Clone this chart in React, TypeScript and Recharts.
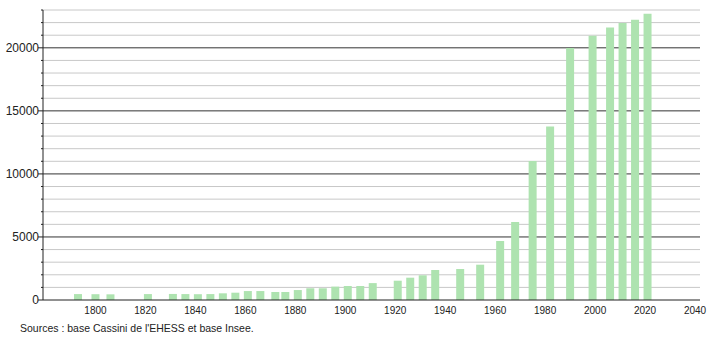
import { BarChart, Bar, XAxis, YAxis, CartesianGrid } from 'recharts';

// Population by census year
const years = [
  1793, 1800, 1806, 1821, 1831, 1836, 1841, 1846, 1851, 1856, 1861, 1866, 1872,
  1876, 1881, 1886, 1891, 1896, 1901, 1906, 1911, 1921, 1926, 1931, 1936, 1946,
  1954, 1962, 1968, 1975, 1982, 1990, 1999, 2006, 2011, 2016, 2021,
];
const population = [
  470, 460, 450, 470, 480, 470, 460, 470, 530, 580, 710, 710, 635,
  635, 790, 930, 930, 1060, 1110, 1110, 1340, 1530, 1770, 1960, 2380, 2460,
  2800, 4680, 6190, 11030, 13760, 19980, 20950, 21610, 21960, 22220, 22700,
];
const xTicks = [1800, 1820, 1840, 1860, 1880, 1900, 1920, 1940, 1960, 1980, 2000, 2020, 2040];
const yTicks = Array.from({ length: 24 }, (_, i) => i * 1000);
const minorLines = yTicks.filter(v => v % 5000 !== 0);
const majorLines = [5000, 10000, 15000, 20000];

const FONT = '"Liberation Sans", Arial, sans-serif';

function YTick(props: any) {
  const { x, y, payload } = props;
  const major = payload.value % 5000 === 0;
  return (
    <g>
      <line x1={x - (major ? 5 : 2)} x2={x} y1={y} y2={y} stroke="#222" strokeWidth={1} />
      {major && (
        <text x={x - 4} y={y} dy={4} textAnchor="end" fontSize={12} fill="#222" fontFamily={FONT}>
          {payload.value}
        </text>
      )}
    </g>
  );
}

export default function App() {
  const data = years.map((year, i) => ({ year, pop: population[i] }));

  return (
    <div style={{ position: 'absolute', left: 0, top: 0, width: 710, height: 340, background: '#fff', fontFamily: FONT }}>
      <BarChart width={710} height={340} data={data} margin={{ top: 10, right: 10, left: 0, bottom: 20 }}>
        <CartesianGrid vertical={false} horizontalValues={minorLines} stroke="#c8c8c8" />
        <CartesianGrid vertical={false} horizontalValues={majorLines} stroke="#333" />
        <XAxis
          dataKey="year"
          type="number"
          domain={[1779, 2042]}
          ticks={xTicks}
          interval={0}
          height={20}
          tickLine={false}
          tickSize={0}
          tickMargin={7}
          axisLine={{ stroke: '#222' }}
          tick={{ fontSize: 10, fill: '#222', fontFamily: FONT }}
        />
        <YAxis
          width={43}
          domain={[0, 23000]}
          ticks={yTicks}
          interval={0}
          tickLine={false}
          tickSize={0}
          tickMargin={0}
          axisLine={{ stroke: '#222' }}
          tick={<YTick />}
        />
        <Bar dataKey="pop" fill="#aee3b0" barSize={8} isAnimationActive={false} />
      </BarChart>
      <div style={{ position: 'absolute', left: 20, top: 322, fontSize: 10.5, color: '#222' }}>
        Sources : base Cassini de l'EHESS et base Insee.
      </div>
    </div>
  );
}
